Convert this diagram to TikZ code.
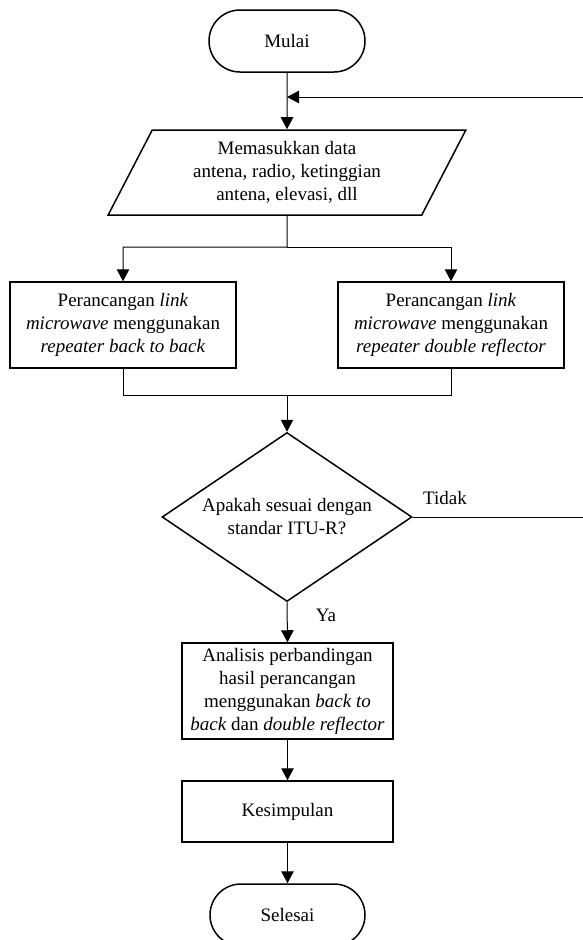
\documentclass[tikz,border=0pt]{standalone}
\usepackage{fontspec}
\setmainfont{Liberation Serif}
\usetikzlibrary{shapes.geometric,arrows.meta}

\begin{document}
\begin{tikzpicture}[x=1pt,y=-1pt,
    every node/.style={font=\fontsize{19}{23}\selectfont,align=center,inner sep=0pt},
    terminal/.style={draw,line width=1.5pt,rounded corners=31pt,minimum width=156pt,minimum height=62pt},
    inputbox/.style={draw,line width=1.5pt,trapezium,trapezium left angle=63.7,trapezium right angle=116.3,
      trapezium stretches=true,minimum width=359pt,minimum height=85pt},
    process/.style={draw,line width=1.5pt,rectangle,minimum width=#1},
    decision/.style={draw,line width=1.5pt,diamond,aspect=1.48,minimum width=250pt,minimum height=169pt}]
      \useasboundingbox (0,0) rectangle (583,940);
      \draw
        (287,41) node[terminal] (mulai){Mulai}
        (287,172.5) node[inputbox] (input){Memasukkan data\\antena, radio, ketinggian\\antena, elevasi, dll}
        (123,325) node[process=226pt,minimum height=86pt] (pl){Perancangan \textit{link}\\\textit{microwave} menggunakan\\\textit{repeater back to back}}
        (451,325) node[process=226pt,minimum height=86pt] (pr){Perancangan \textit{link}\\\textit{microwave} menggunakan\\\textit{repeater double reflector}}
        (287,517) node[decision] (cek){Apakah sesuai dengan\\standar ITU-R?}
        (287.5,691) node[process=211pt,minimum height=96pt] (analisis){Analisis perbandingan\\hasil perancangan\\menggunakan \textit{back to}\\\textit{back} dan \textit{double reflector}}
        (287.5,811.5) node[process=211pt,minimum height=61pt] (kesimpulan){Kesimpulan}
        (287.5,915) node[terminal,minimum width=155pt] (selesai){Selesai}
        (445,498) node (tidak){Tidak}
        (326,615) node (ya){Ya};
      \coordinate (balik) at (287,97);
      \coordinate (pojok) at (586,97);
      \coordinate (cabang) at (287,247);
      \coordinate (gabung) at (287,395);
      \begin{scope}[line width=1pt,-{Triangle[length=12pt,width=12.5pt]}]
        \draw (mulai) to (input);
        \draw (input.south) -- (cabang) -| (pl.north);
        \draw (cabang) -| (pr.north);
        \draw[-] (pl.south) |- (gabung);
        \draw[-] (pr.south) |- (gabung);
        \draw (gabung) to (cek.north);
        \draw (cek.east) -| (pojok) -- (balik);
        \draw (cek.south) to (analisis.north);
        \draw (analisis) to (kesimpulan);
        \draw (kesimpulan) to (selesai);
      \end{scope}
    \end{tikzpicture}
\end{document}
